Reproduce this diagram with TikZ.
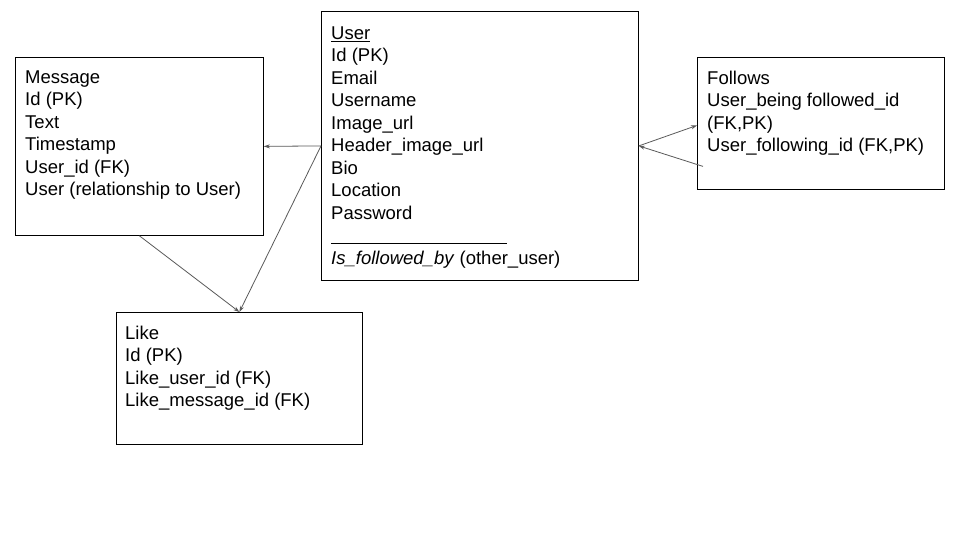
\documentclass[tikz,border=0pt]{standalone}
\usepackage{fontspec}
\setmainfont{Liberation Sans}
\usetikzlibrary{arrows.meta}
\begin{document}
\begin{tikzpicture}[x=1pt,y=-1pt,
  box/.style={draw=black, line width=0.8pt, rectangle, anchor=north west, inner sep=0pt},
  txt/.style={anchor=north west, align=left, inner sep=0pt, font=\fontsize{18.5}{22.5}\selectfont},
  arr/.style={draw={rgb,255:red,90;green,90;blue,90}, line width=0.8pt, -{Stealth[length=6pt,width=4pt]}}]
\useasboundingbox[fill=white] (0,0) rectangle (960,540);
% boxes
\node[box, minimum width=248pt, minimum height=178pt] (message) at (15,57) {};
\node[box, minimum width=317pt, minimum height=269pt] (user) at (321,11) {};
\node[box, minimum width=247pt, minimum height=132pt] (follows) at (697,57) {};
\node[box, minimum width=246pt, minimum height=132pt] (like) at (116,312) {};
% texts
\node[txt] (messagetxt) at (25,70.5) {Message\\Id (PK)\\Text\\Timestamp\\User\_id (FK)\\User (relationship to User)};
\node[txt] (usertxt) at (331,26.5) {\underline{User}\\Id (PK)\\Email\\Username\\Image\_url\\Header\_image\_url\\Bio\\Location\\Password\\\underline{\hspace{176pt}}\\\textit{Is\_followed\_by} (other\_user)};
\node[txt] (followstxt) at (707,70.5) {Follows\\User\_being followed\_id\\(FK,PK)\\User\_following\_id (FK,PK)};
\node[txt] (liketxt) at (125,325.5) {Like\\Id (PK)\\Like\_user\_id (FK)\\Like\_message\_id (FK)};
% connectors
\coordinate (fstart) at ([xshift=6pt,yshift=-43pt]follows.west);
\draw[arr] (user.west) -- (message.east);
\draw[arr] (user.west) -- (like.north);
\draw[arr] (message.south) -- (like.north);
\draw[arr] (user.east) -- ([yshift=-2pt]follows.west);
\draw[arr] (fstart) -- (user.east);
\end{tikzpicture}
\end{document}
